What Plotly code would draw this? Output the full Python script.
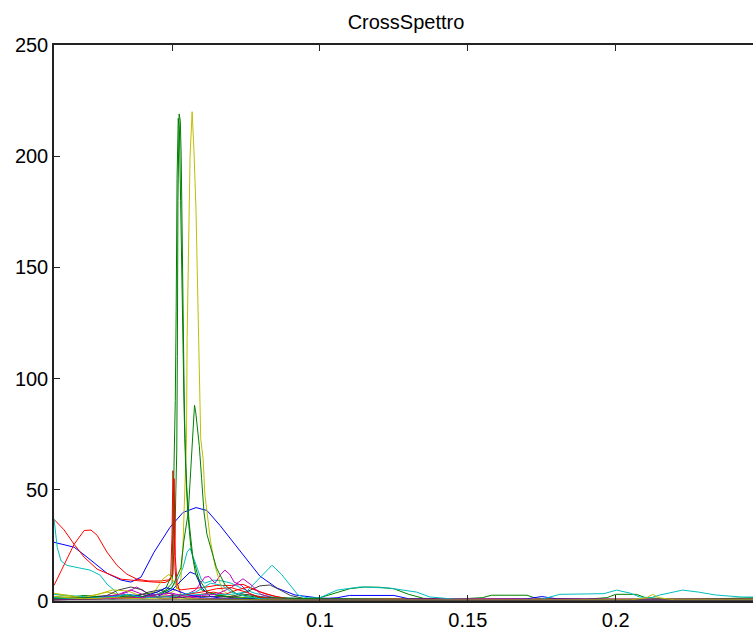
import plotly.graph_objects as go

# ---- data (frequency, cross-spectrum magnitude) ----
X_B1 = [0.0101, 0.0169, 0.0213, 0.0247, 0.0280, 0.0328, 0.0361, 0.0395, 0.0439, 0.0493, 0.0537, 0.0581, 0.0618, 0.0662, 0.0740, 0.0797, 0.0855, 0.0916, 0.1000, 0.1200, 0.1500, 0.2000, 0.2464]
Y_B1 = [26.4, 24.2, 19.7, 16.1, 12.5, 9.4, 8.5, 10.7, 21.9, 33.1, 39.8, 42.0, 40.7, 34.0, 21.0, 11.2, 5.8, 2.7, 1.3, 0.8, 0.6, 0.6, 0.6]

X_G1 = [0.0101, 0.020, 0.030, 0.040, 0.045, 0.048, 0.050, 0.0510, 0.0513, 0.0516, 0.0518, 0.0520, 0.0524, 0.0528, 0.0531, 0.0534, 0.0537, 0.0541, 0.0544, 0.0550, 0.0558, 0.0570, 0.060, 0.065, 0.075, 0.090, 0.100, 0.105, 0.110, 0.115, 0.120, 0.125, 0.130, 0.135, 0.145, 0.155, 0.158, 0.170, 0.173, 0.190, 0.197, 0.200, 0.207, 0.210, 0.220, 0.235, 0.2464]
Y_G1 = [1.5, 1.0, 2.5, 2.0, 3.0, 5.0, 8.0, 30.0, 50.0, 67.0, 110.0, 180.0, 219.0, 216.0, 200.0, 164.0, 114.0, 93.0, 73.0, 50.0, 35.0, 20.0, 5.0, 2.5, 1.5, 0.8, 1.5, 3.5, 5.5, 6.3, 6.2, 5.5, 3.0, 1.2, 0.8, 1.5, 2.6, 2.6, 1.2, 0.8, 1.5, 3.0, 3.0, 1.5, 0.8, 1.0, 1.5]

X_R1 = [0.0101, 0.0135, 0.0169, 0.0203, 0.0247, 0.0294, 0.0328, 0.0361, 0.0395, 0.0439, 0.0476, 0.0495, 0.0500, 0.0503, 0.0507, 0.0510, 0.0515, 0.053, 0.056, 0.060, 0.065, 0.070, 0.074, 0.078, 0.082, 0.088, 0.095, 0.100, 0.120, 0.150, 0.170, 0.200, 0.2464]
Y_R1 = [36.7, 32.0, 25.5, 19.7, 14.3, 11.6, 9.8, 9.4, 8.9, 8.5, 8.3, 9.5, 30.0, 58.6, 45.0, 15.0, 6.0, 5.0, 5.5, 6.0, 7.0, 7.0, 7.5, 5.0, 3.0, 1.2, 0.6, 0.6, 1.0, 1.0, 0.8, 0.6, 0.8]

X_C1 = [0.0101, 0.0112, 0.0125, 0.0145, 0.0189, 0.0223, 0.0257, 0.0280, 0.0304, 0.0328, 0.036, 0.040, 0.045, 0.049, 0.0517, 0.0537, 0.0551, 0.0561, 0.0571, 0.0585, 0.0598, 0.061, 0.064, 0.067, 0.070, 0.074, 0.078, 0.085, 0.100, 0.150, 0.200, 0.2464]
Y_C1 = [37.0, 24.0, 18.0, 16.0, 14.8, 13.9, 11.6, 7.6, 4.9, 1.8, 1.5, 2.0, 3.0, 5.0, 9.0, 15.0, 22.0, 23.7, 20.0, 15.0, 10.0, 8.0, 9.4, 9.0, 8.0, 5.4, 3.5, 1.5, 1.0, 0.6, 0.8, 0.8]

X_M1 = [0.0101, 0.020, 0.030, 0.035, 0.038, 0.041, 0.045, 0.050, 0.055, 0.058, 0.0611, 0.0625, 0.0645, 0.0665, 0.0679, 0.0695, 0.0710, 0.0735, 0.0764, 0.080, 0.090, 0.100, 0.150, 0.200, 0.2464]
Y_M1 = [1.0, 1.5, 2.0, 4.0, 6.3, 4.0, 2.0, 2.5, 3.0, 5.0, 10.7, 11.0, 8.0, 12.0, 13.9, 12.0, 8.5, 7.0, 3.0, 1.5, 0.8, 0.6, 0.5, 0.6, 0.5]

X_Y1 = [0.0101, 0.015, 0.020, 0.028, 0.032, 0.040, 0.046, 0.050, 0.052, 0.0530, 0.0537, 0.0541, 0.0544, 0.0549, 0.0551, 0.0554, 0.0558, 0.0561, 0.0568, 0.0574, 0.0581, 0.0585, 0.0588, 0.0593, 0.0597, 0.0605, 0.0611, 0.0622, 0.0630, 0.0645, 0.0655, 0.0669, 0.0690, 0.073, 0.080, 0.100, 0.150, 0.200, 0.2464]
Y_Y1 = [3.0, 2.0, 1.5, 4.0, 3.0, 1.5, 2.0, 4.0, 6.0, 10.0, 25.0, 40.0, 57.0, 73.0, 118.0, 150.0, 180.0, 200.0, 220.0, 203.0, 176.0, 150.0, 120.0, 95.0, 73.0, 64.0, 48.0, 36.0, 27.0, 16.0, 11.0, 5.0, 3.0, 1.5, 0.8, 0.8, 0.6, 0.7, 0.8]

X_K1 = [0.0101, 0.020, 0.028, 0.032, 0.0361, 0.040, 0.043, 0.047, 0.050, 0.060, 0.070, 0.075, 0.0797, 0.0831, 0.0865, 0.090, 0.095, 0.100, 0.150, 0.200, 0.2464]
Y_K1 = [1.0, 1.5, 2.5, 5.0, 6.3, 5.0, 2.0, 1.0, 1.5, 2.0, 2.0, 4.0, 6.8, 7.2, 5.0, 2.5, 1.0, 0.8, 0.4, 0.5, 0.5]

X_B2 = [0.0101, 0.020, 0.030, 0.040, 0.045, 0.050, 0.053, 0.0561, 0.058, 0.060, 0.063, 0.068, 0.080, 0.100, 0.106, 0.110, 0.125, 0.130, 0.150, 0.170, 0.175, 0.180, 0.200, 0.2464]
Y_B2 = [1.5, 1.0, 1.5, 1.2, 2.0, 5.0, 9.0, 13.0, 12.0, 6.0, 2.0, 1.0, 0.8, 0.8, 1.5, 2.5, 2.5, 1.0, 0.8, 1.0, 2.0, 1.0, 0.8, 0.8]

X_G2 = [0.0101, 0.015, 0.020, 0.030, 0.040, 0.045, 0.048, 0.0500, 0.0503, 0.0507, 0.0511, 0.0514, 0.0517, 0.0521, 0.0525, 0.0529, 0.0533, 0.0537, 0.0541, 0.0546, 0.0553, 0.0563, 0.058, 0.062, 0.070, 0.080, 0.100, 0.150, 0.200, 0.2464]
Y_G2 = [2.0, 1.5, 2.5, 1.5, 3.0, 4.0, 6.0, 12.0, 35.0, 60.0, 90.0, 130.0, 190.0, 217.0, 212.0, 180.0, 140.0, 110.0, 85.0, 60.0, 40.0, 25.0, 12.0, 4.0, 1.5, 1.0, 0.7, 0.6, 0.6, 0.8]

X_R2 = [0.0101, 0.0135, 0.0169, 0.0203, 0.0226, 0.0247, 0.0280, 0.0314, 0.0348, 0.0382, 0.042, 0.046, 0.049, 0.0503, 0.0507, 0.0511, 0.0517, 0.053, 0.056, 0.060, 0.064, 0.068, 0.072, 0.076, 0.080, 0.085, 0.090, 0.100, 0.150, 0.200, 0.2464]
Y_R2 = [7.0, 16.5, 25.5, 31.7, 31.9, 29.5, 22.0, 16.0, 12.0, 9.8, 9.0, 9.0, 9.5, 12.0, 55.0, 20.0, 8.0, 3.0, 2.0, 3.0, 4.0, 3.0, 5.0, 6.3, 4.0, 2.0, 1.0, 0.8, 0.8, 1.0, 0.8]

X_C2 = [0.0101, 0.020, 0.030, 0.040, 0.050, 0.060, 0.070, 0.075, 0.0797, 0.0838, 0.087, 0.0926, 0.0960, 0.100, 0.1058, 0.1135, 0.1236, 0.1327, 0.1372, 0.145, 0.160, 0.175, 0.1811, 0.190, 0.196, 0.2003, 0.205, 0.2081, 0.212, 0.2149, 0.2226, 0.228, 0.2338, 0.2425, 0.2464]
Y_C2 = [3.0, 2.0, 1.0, 1.5, 2.0, 3.0, 3.0, 4.0, 10.7, 16.1, 12.0, 2.7, 1.3, 1.5, 4.9, 6.3, 5.8, 4.0, 1.8, 0.9, 0.6, 0.8, 3.0, 3.2, 3.3, 4.9, 3.5, 1.8, 1.5, 2.7, 4.9, 4.0, 2.7, 1.8, 1.8]

X_M2 = [0.0101, 0.015, 0.025, 0.032, 0.036, 0.040, 0.047, 0.050, 0.055, 0.060, 0.065, 0.070, 0.074, 0.077, 0.080, 0.085, 0.100, 0.150, 0.200, 0.2464]
Y_M2 = [0.8, 1.0, 1.5, 3.0, 5.0, 3.0, 1.0, 1.0, 2.0, 2.5, 3.0, 6.0, 10.0, 7.0, 3.0, 1.0, 0.5, 0.8, 0.6, 0.6]

X_Y2 = [0.0101, 0.015, 0.020, 0.025, 0.030, 0.035, 0.040, 0.044, 0.047, 0.049, 0.051, 0.053, 0.056, 0.060, 0.080, 0.100, 0.150, 0.200, 0.2464]
Y_Y2 = [3.5, 2.5, 1.5, 3.0, 5.0, 4.5, 2.0, 4.0, 10.0, 12.0, 8.0, 3.0, 1.5, 1.0, 0.6, 0.6, 0.5, 0.6, 0.6]

X_K2 = [0.0101, 0.020, 0.030, 0.038, 0.042, 0.046, 0.050, 0.055, 0.060, 0.070, 0.075, 0.080, 0.090, 0.100, 0.150, 0.200, 0.2464]
Y_K2 = [0.5, 1.0, 1.2, 2.0, 4.0, 5.0, 3.0, 1.0, 0.8, 1.5, 3.0, 2.0, 0.6, 0.4, 0.4, 0.4, 0.4]

X_B3 = [0.0101, 0.020, 0.030, 0.035, 0.040, 0.045, 0.048, 0.051, 0.055, 0.060, 0.065, 0.080, 0.120, 0.160, 0.200, 0.2464]
Y_B3 = [0.8, 1.2, 2.0, 3.0, 2.0, 4.0, 6.0, 5.0, 3.0, 1.5, 1.0, 0.8, 0.5, 0.6, 0.5, 0.5]

X_G3 = [0.0101, 0.020, 0.030, 0.040, 0.046, 0.050, 0.0530, 0.0540, 0.0555, 0.0565, 0.0572, 0.0576, 0.0580, 0.0585, 0.0592, 0.0600, 0.0608, 0.0618, 0.0635, 0.0650, 0.0680, 0.0720, 0.080, 0.100, 0.150, 0.200, 0.2464]
Y_G3 = [1.0, 1.5, 1.0, 2.0, 3.0, 6.0, 15.0, 27.0, 40.0, 62.0, 78.0, 88.0, 85.0, 78.0, 70.0, 55.0, 40.0, 30.0, 22.0, 15.0, 7.0, 3.0, 1.5, 1.0, 0.6, 0.8, 0.7]

X_R3 = [0.0101, 0.020, 0.030, 0.040, 0.050, 0.055, 0.060, 0.065, 0.070, 0.075, 0.080, 0.090, 0.100, 0.150, 0.200, 0.2464]
Y_R3 = [0.6, 0.8, 1.0, 1.5, 2.0, 3.0, 4.0, 5.5, 6.0, 4.0, 1.5, 0.6, 0.4, 0.5, 0.4, 0.4]

X_C3 = [0.0101, 0.020, 0.030, 0.035, 0.040, 0.050, 0.058, 0.063, 0.067, 0.070, 0.075, 0.080, 0.100, 0.150, 0.200, 0.2464]
Y_C3 = [1.5, 1.0, 2.0, 3.0, 1.5, 2.0, 4.0, 8.0, 7.0, 4.0, 2.0, 1.0, 0.4, 0.4, 0.4, 0.4]

X_M3 = [0.0101, 0.020, 0.030, 0.040, 0.045, 0.050, 0.055, 0.060, 0.080, 0.100, 0.200, 0.2464]
Y_M3 = [0.5, 0.8, 1.0, 1.5, 3.0, 3.5, 2.0, 1.0, 0.5, 0.4, 0.4, 0.4]

X_Y3 = [0.0101, 0.020, 0.030, 0.040, 0.050, 0.100, 0.150, 0.205, 0.2105, 0.2125, 0.2145, 0.220, 0.2464]
Y_Y3 = [2.0, 1.0, 1.5, 1.0, 1.0, 0.4, 0.4, 0.5, 1.5, 3.0, 1.5, 0.5, 0.5]

X_K3 = [0.0101, 0.050, 0.100, 0.150, 0.200, 0.2464]
Y_K3 = [0.5, 0.6, 0.4, 0.3, 0.3, 0.3]

X_TICKS = [0.05, 0.1, 0.15, 0.2]
X_TICK_LABELS = ["0.05", "0.1", "0.15", "0.2"]
Y_TICKS = [0, 50, 100, 150, 200, 250]
TITLE = "CrossSpettro"

# MATLAB classic color order: b g r c m y k
COLORS = {
    "b": "rgb(0,0,255)",
    "g": "rgb(0,128,0)",
    "r": "rgb(255,0,0)",
    "c": "rgb(0,191,191)",
    "m": "rgb(191,0,191)",
    "y": "rgb(191,191,0)",
    "k": "rgb(64,64,64)",
}

SERIES = [
    ("b", X_B1, Y_B1), ("g", X_G1, Y_G1), ("r", X_R1, Y_R1), ("c", X_C1, Y_C1),
    ("m", X_M1, Y_M1), ("y", X_Y1, Y_Y1), ("k", X_K1, Y_K1),
    ("b", X_B2, Y_B2), ("g", X_G2, Y_G2), ("r", X_R2, Y_R2), ("c", X_C2, Y_C2),
    ("m", X_M2, Y_M2), ("y", X_Y2, Y_Y2), ("k", X_K2, Y_K2),
    ("b", X_B3, Y_B3), ("g", X_G3, Y_G3), ("r", X_R3, Y_R3), ("c", X_C3, Y_C3),
    ("m", X_M3, Y_M3), ("y", X_Y3, Y_Y3), ("k", X_K3, Y_K3),
]

fig = go.Figure()
for c, xs, ys in SERIES:
    fig.add_trace(go.Scatter(x=xs, y=ys, mode="lines",
                             line=dict(color=COLORS[c], width=1),
                             showlegend=False, hoverinfo="skip"))

FONT = "Liberation Sans, Arial, sans-serif"
fig.update_layout(
    width=753, height=631,
    margin=dict(l=54, r=0, t=45, b=27),
    paper_bgcolor="white", plot_bgcolor="white",
    font=dict(family=FONT, size=20, color="black"),
    title=dict(text=TITLE, x=406 / 753, xanchor="center", xref="container",
               y=1 - 22 / 631, yanchor="middle", yref="container",
               font=dict(family=FONT, size=20, color="black")),
)
fig.update_xaxes(range=[0.0101, 0.2464], tickvals=X_TICKS, ticktext=X_TICK_LABELS,
                 showgrid=False, zeroline=False, showline=True, linecolor="#222",
                 linewidth=1.5, mirror="ticks", ticks="inside", ticklen=6,
                 tickcolor="#222", tickwidth=1)
fig.update_yaxes(range=[0, 250], tickvals=Y_TICKS,
                 showgrid=False, zeroline=False, showline=True, linecolor="#222",
                 linewidth=1.5, mirror=False, ticks="inside", ticklen=6,
                 tickcolor="#222", tickwidth=1)

fig.write_html("out.html")
